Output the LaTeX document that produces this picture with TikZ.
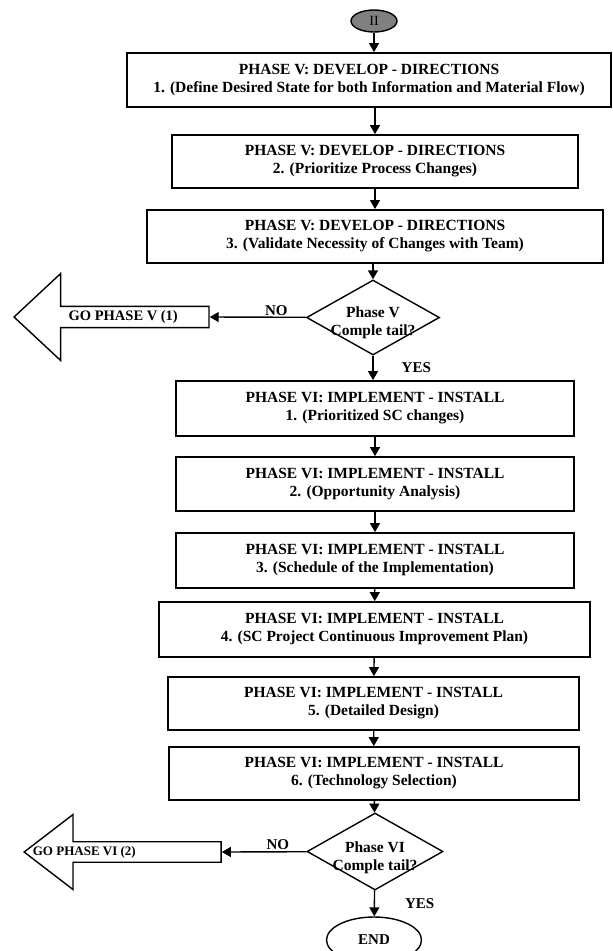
\documentclass[tikz,border=0pt]{standalone}
\usepackage{fontspec}
\setmainfont{Liberation Serif}
\usetikzlibrary{arrows.meta, shapes.geometric, shapes.arrows}

\begin{document}
\begin{tikzpicture}[x=1pt,y=-1pt,->,>={Triangle[width=10pt,length=9pt]},line width=1.4pt,
  phase/.style={rectangle,draw,line width=1.8pt,align=center,inner sep=0pt,
    font=\bfseries\fontsize{15.5}{18}\selectfont},
  check/.style={diamond,draw,inner sep=0pt},
  ask/.style={align=center,font=\bfseries\fontsize{15.5}{18}\selectfont},
  goback/.style={single arrow,draw,shape border rotate=180,anchor=tip,inner sep=0pt,
    font=\bfseries\fontsize{14.5}{17}\selectfont},
  flag/.style={font=\bfseries\fontsize{15}{17}\selectfont,inner sep=1pt}]
  \useasboundingbox (0,0) rectangle (613,951);
  \node[ellipse,draw,fill=black!50,minimum width=46pt,minimum height=22pt,inner sep=0pt,
    font=\fontsize{14}{16}\selectfont] (start) at (374,21) {II};
  \node[phase,minimum width=484pt,minimum height=54pt] (v1) at (369,80)
    {PHASE V: DEVELOP - DIRECTIONS\\1. (Define Desired State for both Information and Material Flow)};
  \node[phase,minimum width=406pt,minimum height=53pt] (v2) at (375,161.5)
    {PHASE V: DEVELOP - DIRECTIONS\\2. (Prioritize Process Changes)};
  \node[phase,minimum width=456pt,minimum height=53pt] (v3) at (375,236.5)
    {PHASE V: DEVELOP - DIRECTIONS\\3. (Validate Necessity of Changes with Team)};
  \node[check,minimum width=133pt,minimum height=75pt] (qV) at (373,317.5) {};
  \node[ask] (tV) at (373,323) {Phase V\\Comple tail?};
  \node[goback,minimum height=195pt,minimum width=87pt,single arrow head extend=22.5pt,
    single arrow tip angle=86] (goV) at (13,317) {\hspace*{12pt}GO PHASE V (1)};
  \node[phase,minimum width=398pt,minimum height=55pt] (vi1) at (375,408.5)
    {PHASE VI: IMPLEMENT - INSTALL\\1. (Prioritized SC changes)};
  \node[phase,minimum width=398pt,minimum height=54pt] (vi2) at (375,484)
    {PHASE VI: IMPLEMENT - INSTALL\\2. (Opportunity Analysis)};
  \node[phase,minimum width=398pt,minimum height=55pt] (vi3) at (375,560.5)
    {PHASE VI: IMPLEMENT - INSTALL\\3. (Schedule of the Implementation)};
  \node[phase,minimum width=431pt,minimum height=55pt] (vi4) at (374.5,629.5)
    {PHASE VI: IMPLEMENT - INSTALL\\4. (SC Project Continuous Improvement Plan)};
  \node[phase,minimum width=411pt,minimum height=53pt] (vi5) at (373.5,703.5)
    {PHASE VI: IMPLEMENT - INSTALL\\5. (Detailed Design)};
  \node[phase,minimum width=410pt,minimum height=53pt] (vi6) at (374,773.5)
    {PHASE VI: IMPLEMENT - INSTALL\\6. (Technology Selection)};
  \node[check,minimum width=136pt,minimum height=77pt] (qVI) at (375,851.5) {};
  \node[ask] (tVI) at (375,858) {Phase VI\\Comple tail?};
  \node[goback,minimum height=197pt,minimum width=75pt,single arrow head extend=17.5pt,
    single arrow tip angle=75,font=\bfseries\fontsize{13}{15}\selectfont] (goVI) at (23,852)
    {\hspace*{-90pt}GO PHASE VI (2)};
  \node[ellipse,draw,minimum width=95pt,minimum height=46pt,inner sep=0pt,
    font=\bfseries\fontsize{15}{17}\selectfont] (end) at (374,940) {END};
  \path (start) edge (start |- v1.north)
        (v1.south -| v2) edge (v2)
        (v2)  edge (v3)
        (v3.south -| qV) edge (qV)
        (qV)  edge node[flag,pos=.31,above] {NO} (goV.tail)
              edge node[flag,midway,right=27pt] {YES} (qV |- vi1.north)
        (vi1) edge (vi2)
        (vi2) edge (vi3)
        (vi3) edge (vi4)
        (vi4) edge (vi5)
        (vi5) edge (vi6)
        (vi6) edge (qVI)
        (qVI) edge node[flag,pos=.34,above] {NO} (goVI.tail)
              edge node[flag,midway,right=29pt] {YES} (end);
\end{tikzpicture}
\end{document}
